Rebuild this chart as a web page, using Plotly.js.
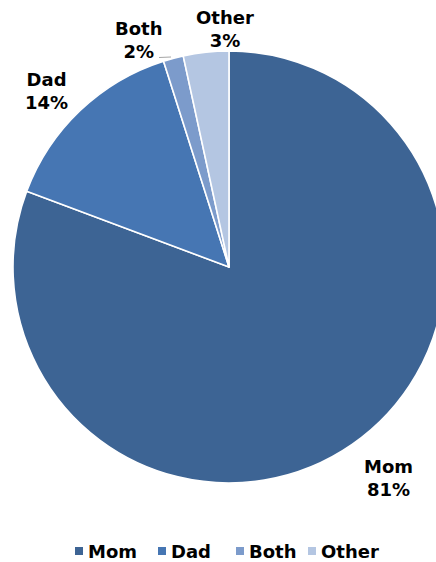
<!DOCTYPE html>
<html>
<head>
<meta charset="utf-8">
<script src="https://cdn.plot.ly/plotly-3.0.1.min.js"></script>
<style>
html,body{margin:0;padding:0;overflow:hidden;background:#fff;width:436px;height:562px;}
#chart{width:460px;height:562px;}
</style>
</head>
<body>
<div id="chart"></div>
<script>
const categories = ["Mom", "Dad", "Both", "Other"];
const sliceValues = [80.7, 14.4, 1.5, 3.4];
const labelPercents = [81, 14, 2, 3];
const colors = ["#3D6494", "#4676B3", "#7C9BCB", "#B4C6E2"];

// label anchor positions in page pixels (layout only)
const labelPx = [[388, 478], [46, 91], [139, 40], [225, 29]];
const legendPx = [75, 158, 236, 308];
const legendY = 551;

const W = 460, H = 562, ml = 13, mr = 15, mt = 51, mb = 79;
const pw = W - ml - mr, ph = H - mt - mb;
const toPaperX = px => (px - ml) / pw;
const toPaperY = py => (H - mb - py) / ph;
const FONT = "DejaVu Sans, Verdana, sans-serif";

const trace = {
  type: "pie",
  labels: categories,
  values: sliceValues,
  sort: false,
  direction: "clockwise",
  rotation: 0,
  textinfo: "none",
  hoverinfo: "label+percent",
  marker: {colors: colors, line: {color: "#ffffff", width: 1.6}},
  domain: {x: [0, 1], y: [0, 1]}
};

const annotations = categories.map((c, i) => ({
  text: "<b>" + c + "<br>" + labelPercents[i] + "%</b>",
  xref: "paper", yref: "paper",
  x: toPaperX(labelPx[i][0]), y: toPaperY(labelPx[i][1]),
  xanchor: "center", yanchor: "middle",
  showarrow: false,
  align: "center",
  font: {family: FONT, size: 18, color: "#000"}
}));

const shapes = [{
  type: "line", xref: "paper", yref: "paper",
  x0: toPaperX(159), y0: toPaperY(57.5), x1: toPaperX(171), y1: toPaperY(57),
  line: {color: "#A6A6A6", width: 1}
}];

categories.forEach((c, i) => {
  shapes.push({
    type: "rect", xref: "paper", yref: "paper",
    x0: toPaperX(legendPx[i]), x1: toPaperX(legendPx[i] + 8),
    y0: toPaperY(legendY + 4), y1: toPaperY(legendY - 4),
    fillcolor: colors[i], line: {width: 0}
  });
  annotations.push({
    text: "<b>" + c + "</b>",
    xref: "paper", yref: "paper",
    x: toPaperX(legendPx[i] + 13), y: toPaperY(legendY),
    xanchor: "left", yanchor: "middle",
    xshift: -2,
    showarrow: false,
    font: {family: FONT, size: 18, color: "#000"}
  });
});

const layout = {
  width: W, height: H,
  margin: {l: ml, r: mr, t: mt, b: mb, autoexpand: false},
  paper_bgcolor: "#fff",
  showlegend: false,
  annotations: annotations,
  shapes: shapes
};

Plotly.newPlot("chart", [trace], layout, {displayModeBar: false, staticPlot: true});
</script>
</body>
</html>
